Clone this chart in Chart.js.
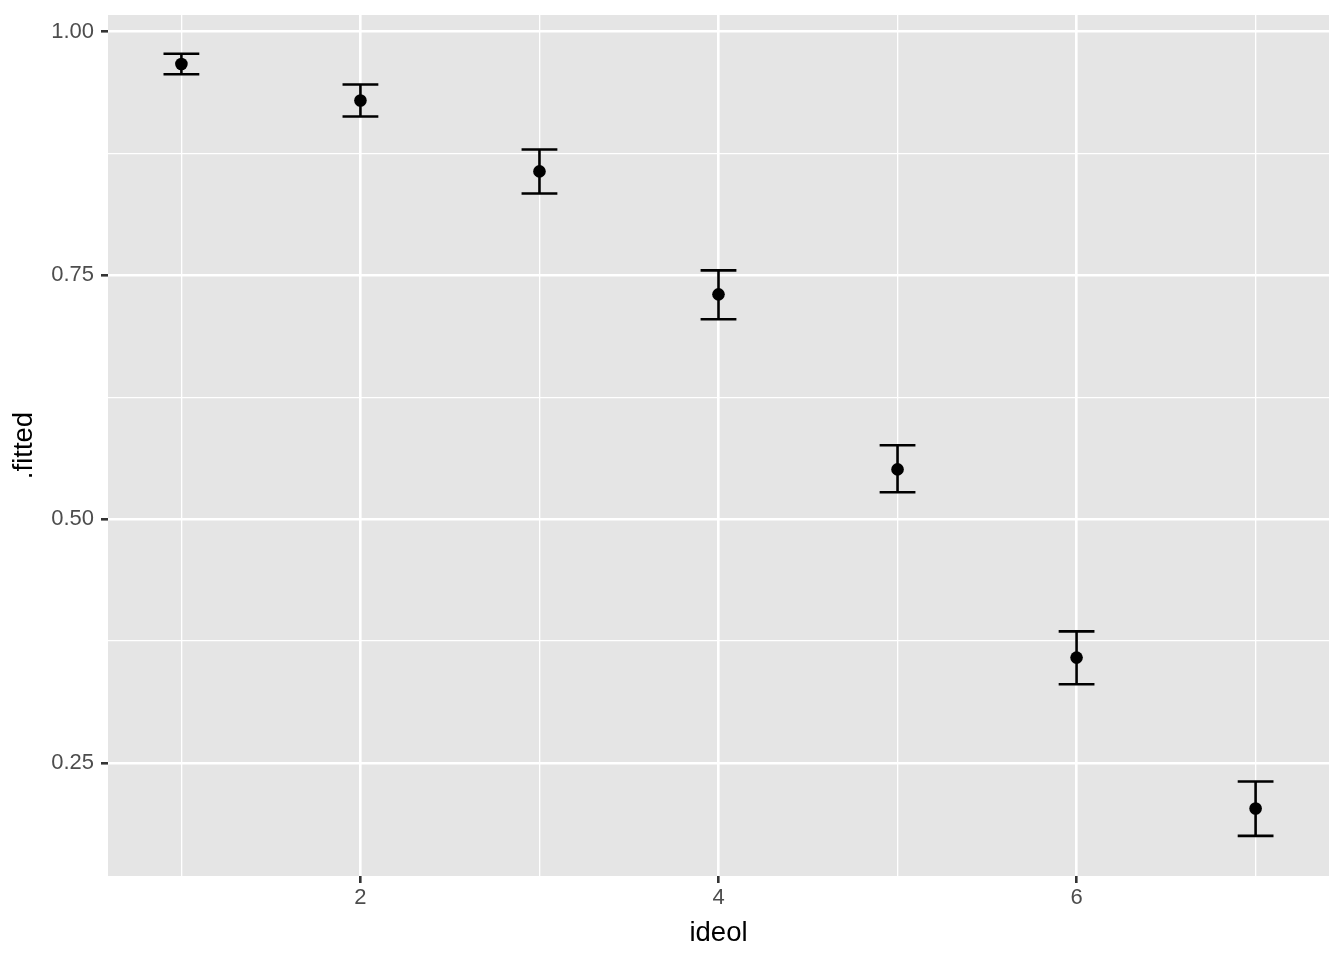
<!DOCTYPE html>
<html>
<head>
<meta charset="utf-8">
<title>fitted vs ideol</title>
<script src="https://cdn.jsdelivr.net/npm/chart.js@4.4.1/dist/chart.umd.min.js"></script>
<style>
  body { margin: 0; background: #fff; }
  canvas { display: block; }
</style>
</head>
<body>
<canvas id="chart" width="1344" height="960"></canvas>
<script>
// data
const ideol = [1, 2, 3, 4, 5, 6, 7];
const fitted = [0.9668, 0.9293, 0.8566, 0.7305, 0.5510, 0.3580, 0.2032];
const lower = [0.9563, 0.9129, 0.8340, 0.7050, 0.5275, 0.3306, 0.1752];
const upper = [0.9772, 0.9457, 0.8791, 0.7551, 0.5758, 0.3849, 0.2309];

const xMajor = [2, 4, 6];
const xMinor = [1, 3, 5, 7];
const yMajor = [0.25, 0.50, 0.75, 1.00];
const yMinor = [0.375, 0.625, 0.875];

const xLimits = [0.59, 7.41];
const yLimits = [0.134, 1.017];
const capHalfWidth = 0.1;

const FONT = '"Liberation Sans", Arial, Helvetica, sans-serif';
const MAJOR_W = 2.6;
const MINOR_W = 1.3;

function isMajor(list, v) {
    return list.some(m => Math.abs(m - v) < 1e-9);
}

const panelBg = {
    id: 'panelBg',
    beforeDraw(chart) {
        const {ctx, chartArea: a} = chart;
        ctx.save();
        ctx.fillStyle = '#E5E5E5';
        ctx.fillRect(a.left, a.top, a.right - a.left, a.bottom - a.top);
        ctx.restore();
    }
};

const errorBars = {
    id: 'errorBars',
    afterDatasetsDraw(chart) {
        const {ctx} = chart;
        const xs = chart.scales.x, ys = chart.scales.y;
        ctx.save();
        ctx.strokeStyle = '#000';
        ctx.lineWidth = MAJOR_W;
        ctx.lineCap = 'butt';
        ideol.forEach((v, i) => {
            const px = xs.getPixelForValue(v);
            const x0 = xs.getPixelForValue(v - capHalfWidth);
            const x1 = xs.getPixelForValue(v + capHalfWidth);
            const yLo = ys.getPixelForValue(lower[i]);
            const yHi = ys.getPixelForValue(upper[i]);
            ctx.beginPath();
            ctx.moveTo(px, yLo);
            ctx.lineTo(px, yHi);
            ctx.moveTo(x0, yHi);
            ctx.lineTo(x1, yHi);
            ctx.moveTo(x0, yLo);
            ctx.lineTo(x1, yLo);
            ctx.stroke();
        });
        ctx.restore();
    }
};

function axis(major, minor, limits, title, opts) {
    return {
        type: 'linear',
        min: limits[0],
        max: limits[1],
        afterBuildTicks(scale) {
            scale.ticks = major.concat(minor).sort((a, b) => a - b).map(v => ({value: v}));
        },
        ticks: {
            color: '#4D4D4D',
            font: {family: FONT, size: 22},
            padding: opts.padding,
            autoSkip: false,
            maxRotation: 0,
            callback: v => isMajor(major, v) ? (opts.fmt ? opts.fmt(v) : String(v)) : ''
        },
        grid: {
            color: '#FFFFFF',
            lineWidth: c => isMajor(major, c.tick.value) ? MAJOR_W : MINOR_W,
            tickColor: c => isMajor(major, c.tick.value) ? '#333333' : 'rgba(0,0,0,0)',
            tickWidth: MAJOR_W,
            tickLength: 7,
            drawTicks: true
        },
        border: {display: false},
        title: {
            display: true,
            text: title,
            color: '#000',
            font: {family: FONT, size: 27.5},
            padding: opts.titlePad
        },
        afterFit: opts.afterFit
    };
}

const ctx = document.getElementById('chart').getContext('2d');

new Chart(ctx, {
    type: 'scatter',
    data: {
        datasets: [{
            label: '.fitted',
            data: ideol.map((v, i) => ({x: v, y: fitted[i]})),
            backgroundColor: '#000',
            borderWidth: 0,
            pointRadius: 6.3,
            pointHoverRadius: 6.3
        }]
    },
    options: {
        responsive: false,
        animation: false,
        layout: {padding: {left: 0, top: 15, right: 15, bottom: 0}},
        plugins: {
            legend: {display: false},
            tooltip: {enabled: false}
        },
        scales: {
            x: axis(xMajor, xMinor, xLimits, 'ideol', {
                padding: 2,
                titlePad: {top: 0, bottom: 10},
                afterFit(s) {
                    s.height = 84;
                    s.paddingLeft = 0;
                    s.paddingRight = 0;
                }
            }),
            y: axis(yMajor, yMinor, yLimits, '.fitted', {
                padding: 7,
                fmt: v => v.toFixed(2),
                titlePad: {top: 8, bottom: 0},
                afterFit(s) {
                    s.width = 108;
                    s.paddingTop = 0;
                    s.paddingBottom = 0;
                }
            })
        }
    },
    plugins: [panelBg, errorBars]
});
</script>
</body>
</html>
